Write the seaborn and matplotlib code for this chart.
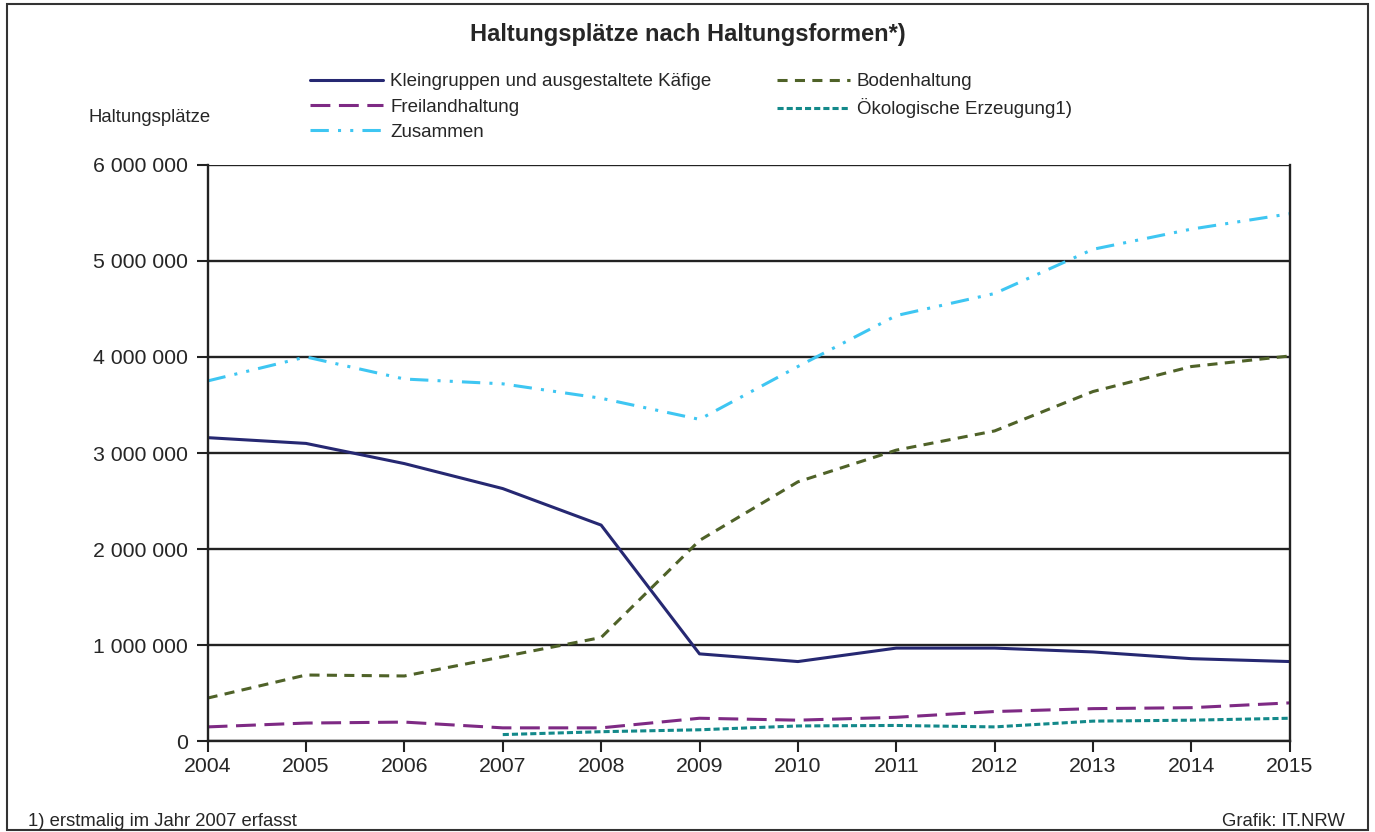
import matplotlib
matplotlib.use("Agg")
import matplotlib.pyplot as plt
import matplotlib.ticker as mticker
from matplotlib.patches import Rectangle
import numpy as np
import pandas as pd
import seaborn as sns

sns.set_style("white")
plt.rcParams['font.family'] = ['Liberation Sans', 'DejaVu Sans']

years = list(range(2004, 2016))
kleingruppen = [3160000, 3100000, 2890000, 2630000, 2250000, 910000, 830000, 970000, 970000, 930000, 860000, 830000]
boden = [450000, 690000, 680000, 880000, 1080000, 2090000, 2700000, 3030000, 3230000, 3640000, 3900000, 4010000]
freiland = [150000, 190000, 200000, 140000, 140000, 240000, 220000, 250000, 310000, 340000, 350000, 400000]
oeko_years = list(range(2007, 2016))
oeko = [70000, 100000, 120000, 160000, 165000, 150000, 210000, 220000, 240000]
zusammen = [3750000, 4000000, 3770000, 3720000, 3570000, 3350000, 3900000, 4430000, 4660000, 5120000, 5330000, 5490000]

series = [
    ("Kleingruppen und ausgestaltete Käfige", years, kleingruppen, "#262872", None),
    ("Bodenhaltung", years, boden, "#4f6228", (3.3, 2.4)),
    ("Freilandhaltung", years, freiland, "#7e2a84", (6.5, 2.8)),
    ("Ökologische Erzeugung1)", oeko_years, oeko, "#13898a", (2, 1)),
    ("Zusammen", years, zusammen, "#3ec6f2", (6, 3, 1, 3, 1, 3)),
]
legend_order = [0, 2, 4, 1, 3]

fig = plt.figure(figsize=(13.75, 8.32), dpi=100)
ax = fig.add_axes([0.151, 0.109, 0.787, 0.693])

handles = []
for name, xs, ys, col, dash in series:
    df = pd.DataFrame({"Jahr": xs, "Wert": ys})
    sns.lineplot(data=df, x="Jahr", y="Wert", ax=ax, color=col, linewidth=2.2, label=name)
    ln = ax.lines[-1]
    if dash is not None:
        ln.set_dashes(dash)
    handles.append(ln)

ax.set_xlim(2004, 2015)
ax.set_ylim(0, 6000000)
ax.set_xticks(years)
ax.set_yticks(np.arange(0, 6000001, 1000000))
ax.yaxis.set_major_formatter(mticker.FuncFormatter(lambda v, p: f"{int(v):,}".replace(",", " ")))
ax.grid(axis="y", color="#222222", linewidth=1.7)
ax.set_axisbelow(True)
for s in ["left", "bottom", "right"]:
    ax.spines[s].set_color("#222222")
    ax.spines[s].set_linewidth(1.7)
ax.spines["top"].set_visible(False)
ax.tick_params(axis="both", labelsize=15.3, direction="out", length=8, width=1.5, color="#222222",
               bottom=True, left=True, pad=3)
ax.tick_params(axis="y", pad=6)
ax.set_xlabel("")
ax.set_ylabel("")

ax.legend(handles=[handles[i] for i in legend_order], labels=[series[i][0] for i in legend_order],
          ncol=2, frameon=False, loc="upper left", bbox_to_anchor=(310 / 1375, 1 - 73 / 832),
          bbox_transform=fig.transFigure, borderpad=0, borderaxespad=0,
          fontsize=13.5, handlelength=3.9, handletextpad=0.37, columnspacing=3.5, labelspacing=0.44)

fig.text(0.5, 1 - 35 / 832, "Haltungsplätze nach Haltungsformen*)", ha="center", va="center",
         fontsize=17, fontweight="bold")
fig.text(88 / 1375, 1 - 117 / 832, "Haltungsplätze", fontsize=13.3, va="center")
fig.text(28 / 1375, 1 - 822 / 832, "1) erstmalig im Jahr 2007 erfasst", fontsize=13.3, va="center")
fig.text(1345 / 1375, 1 - 822 / 832, "Grafik: IT.NRW", fontsize=13.3, va="center", ha="right")

fig.patches.append(Rectangle((7 / 1375, 2 / 832), 1361 / 1375, 826 / 832, transform=fig.transFigure,
                             fill=False, edgecolor="#333333", linewidth=1.5))

fig.savefig("out.png", dpi=100)
